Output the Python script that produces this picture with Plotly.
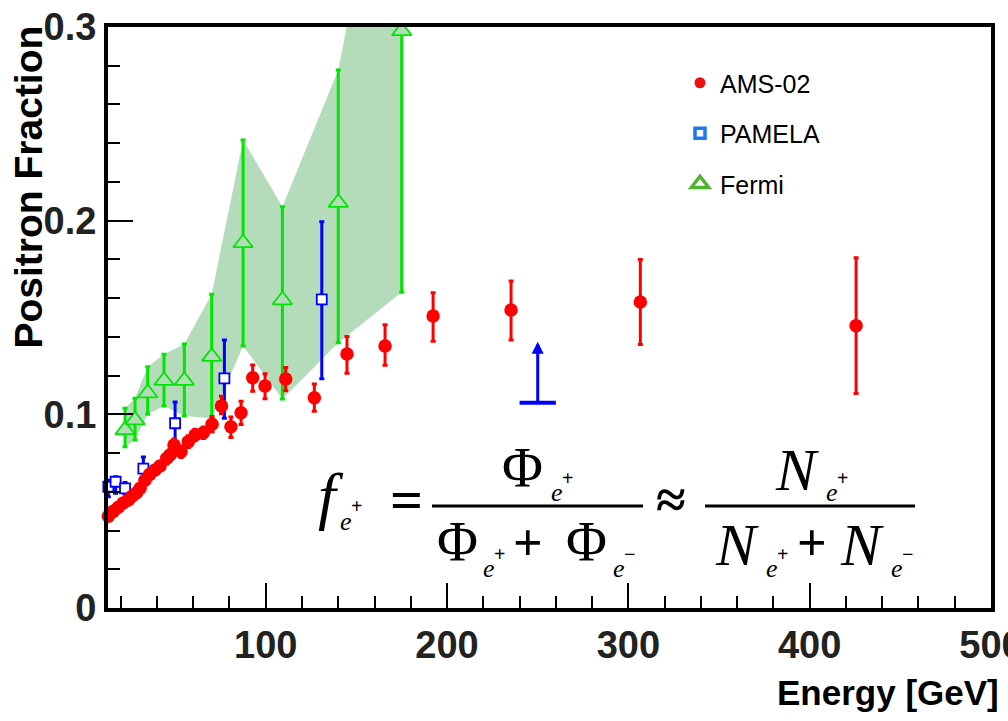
import plotly.graph_objects as go

# ---------------- data ----------------
ams_x = [13.2, 15.9, 18.7, 21.4, 24.2, 26.4, 28.8, 30.7, 33.4, 36.0, 38.9, 41.7, 45.4, 47.2,
         49.4, 53.3, 57.3, 61.0, 65.6, 70.4, 75.6, 80.8, 86.4, 92.8, 99.6, 111.0, 126.8,
         144.8, 165.8, 192.3, 235.3, 306.6, 425.6]
ams_y = [0.0474, 0.0499, 0.0520, 0.0542, 0.0558, 0.0578, 0.0595, 0.0618, 0.0660, 0.0690, 0.0713,
         0.0733, 0.0773, 0.0790, 0.0842, 0.0807, 0.0859, 0.0893, 0.0905, 0.0949, 0.1043, 0.0936,
         0.1008, 0.1189, 0.1146, 0.1182, 0.1086, 0.1312, 0.1353, 0.1508, 0.1539, 0.1580, 0.1458]
ams_ep = [0.002, 0.002, 0.002, 0.002, 0.002, 0.002, 0.002, 0.002, 0.002, 0.002, 0.002,
          0.002, 0.003, 0.003, 0.003, 0.003, 0.003, 0.003, 0.003, 0.004, 0.005, 0.005,
          0.006, 0.0066, 0.0064, 0.006, 0.007, 0.009, 0.011, 0.012, 0.015, 0.022, 0.035]
ams_em = [0.002, 0.002, 0.002, 0.002, 0.002, 0.002, 0.002, 0.002, 0.002, 0.002, 0.002,
          0.002, 0.003, 0.003, 0.003, 0.003, 0.003, 0.003, 0.003, 0.004, 0.004, 0.0056,
          0.006, 0.007, 0.0066, 0.006, 0.007, 0.010, 0.010, 0.013, 0.0155, 0.022, 0.035]

pam_x = [13.2, 17.2, 22.4, 32.5, 50.0, 77.2, 130.9]
pam_y = [0.0626, 0.0652, 0.0618, 0.0720, 0.0954, 0.1186, 0.1594]
pam_ep = [0.0034, 0.0026, 0.003, 0.006, 0.011, 0.0198, 0.040]
pam_em = [0.0051, 0.0060, 0.003, 0.005, 0.011, 0.0206, 0.041]

pam_limit_x = [250.0]
pam_limit_lo = [0.106]
pam_limit_hi = [0.1375]
pam_limit_halfwidth = [10.0]

fermi_x = [22.4, 27.9, 34.9, 43.9, 55.1, 70.2, 87.5, 109.2, 140.0, 175.0]
fermi_y = [0.0919, 0.0970, 0.1110, 0.1174, 0.1174, 0.1298, 0.1885, 0.1590, 0.2093, 0.2980]
fermi_hi = [0.1031, 0.1083, 0.1246, 0.1310, 0.1363, 0.1620, 0.2417, 0.2072, 0.2778, 0.445]
fermi_lo = [0.0833, 0.0867, 0.1000, 0.1043, 0.0991, 0.0980, 0.1353, 0.1079, 0.1370, 0.1630]

x_ticks = [100, 200, 300, 400, 500]
y_ticks = [0, 0.1, 0.2, 0.3]
y_ticktext = ["0", "0.1", "0.2", "0.3"]

# ---------------- styles ----------------
W, H = 1008, 721
L, R, T, B = 108, 17, 27, 113
PW, PH = W - L - R, H - T - B
SANS = "Liberation Sans, Arial, sans-serif"
SERIF = "Liberation Serif, Times New Roman, DejaVu Serif, serif"
RED = "#ff0000"
BLUE = "#0000ff"
GREEN = "#00e600"
BAND = "rgb(180,220,186)"


def P(px, py):
    return (px - L) / PW, (H - B - py) / PH


fig = go.Figure()

# Fermi band
fig.add_trace(go.Scatter(
    x=fermi_x + fermi_x[::-1], y=fermi_hi + fermi_lo[::-1],
    fill="toself", fillcolor=BAND, line=dict(width=0), mode="lines",
    hoverinfo="skip", showlegend=False))

# Fermi points
fig.add_trace(go.Scatter(
    x=fermi_x, y=fermi_y, mode="markers", showlegend=False,
    marker=dict(symbol="triangle-up", size=17, color=BAND, line=dict(color=GREEN, width=1.8)),
    error_y=dict(type="data", symmetric=False,
                 array=[h - y for h, y in zip(fermi_hi, fermi_y)],
                 arrayminus=[y - l for l, y in zip(fermi_lo, fermi_y)],
                 color=GREEN, thickness=3, width=2.5)))

# PAMELA points
fig.add_trace(go.Scatter(
    x=pam_x, y=pam_y, mode="markers", showlegend=False, cliponaxis=False,
    marker=dict(symbol="square", size=10, color="white", line=dict(color=BLUE, width=1.8)),
    error_y=dict(type="data", symmetric=False, array=pam_ep, arrayminus=pam_em,
                 color=BLUE, thickness=3, width=2.5)))

# PAMELA lower limit bar
fig.add_trace(go.Scatter(
    x=pam_limit_x, y=pam_limit_lo, mode="markers", showlegend=False,
    marker=dict(size=1, color=BLUE, opacity=0),
    error_x=dict(type="data", array=pam_limit_halfwidth, color=BLUE, thickness=4, width=0)))

# AMS-02 points
fig.add_trace(go.Scatter(
    x=ams_x, y=ams_y, mode="markers", showlegend=False, cliponaxis=False,
    marker=dict(symbol="circle", size=13.5, color=RED, line=dict(width=0)),
    error_y=dict(type="data", symmetric=False, array=ams_ep, arrayminus=ams_em,
                 color=RED, thickness=3, width=2.5)))

# legend entries
fig.add_trace(go.Scatter(x=[None], y=[None], mode="markers", name="AMS-02", legendgroup="a",
                         marker=dict(symbol="circle", size=11, color="#ee1111")))
fig.add_trace(go.Scatter(x=[None], y=[None], mode="markers", name="PAMELA", legendgroup="b",
                         marker=dict(symbol="square-open", size=10, color="rgb(30,120,240)",
                                     line=dict(width=3.5))))
fig.add_trace(go.Scatter(x=[None], y=[None], mode="markers", name="Fermi", legendgroup="c",
                         marker=dict(symbol="triangle-up-open", size=15, color="rgb(80,180,50)",
                                     line=dict(width=3.5))))

# arrow of lower limit
fig.add_annotation(x=pam_limit_x[0], y=pam_limit_hi[0], ax=pam_limit_x[0], ay=pam_limit_lo[0],
                   xref="x", yref="y", axref="x", ayref="y", text="", showarrow=True,
                   arrowhead=2, arrowsize=0.8, arrowwidth=3, arrowcolor=BLUE)

# formula
def txt(px, py, s, size, italic=False, bold=False):
    x, y = P(px, py)
    fig.add_annotation(x=x, y=y, xref="paper", yref="paper", text=(f"<i>{s}</i>" if italic else s),
                       showarrow=False, xanchor="center", yanchor="middle",
                       font=dict(family=SERIF, size=size, color="black",
                                 weight=("bold" if bold else "normal")))

txt(331, 495, "f", 64, True)
txt(346, 521, "e", 26, True)
txt(356, 506, "+", 20, bold=True)
txt(406, 500, "=", 58, bold=True)
txt(522, 468, "Φ", 56)
txt(557, 492, "e", 26, True)
txt(567, 478, "+", 20, bold=True)
txt(457, 542, "Φ", 56)
txt(489, 568, "e", 26, True)
txt(499, 554, "+", 20, bold=True)
txt(528, 542, "+", 52, bold=True)
txt(586, 542, "Φ", 56)
txt(619, 568, "e", 26, True)
txt(629, 554, "−", 20, bold=True)
txt(671, 500, "≈", 54, bold=True)
txt(797, 470, "N", 60, True)
txt(832, 492, "e", 26, True)
txt(842, 478, "+", 20, bold=True)
txt(737, 545, "N", 60, True)
txt(772, 568, "e", 26, True)
txt(782, 554, "+", 20, bold=True)
txt(812, 542, "+", 52, bold=True)
txt(862, 545, "N", 60, True)
txt(897, 568, "e", 26, True)
txt(907, 554, "−", 20, bold=True)

for x0, x1 in [(432, 643), (705, 915)]:
    a, yb = P(x0, 506)
    b, _ = P(x1, 506)
    fig.add_shape(type="line", xref="paper", yref="paper", x0=a, x1=b, y0=yb, y1=yb,
                  line=dict(color="black", width=3))

# axis titles
xt, yt = P(1001, 692)
fig.add_annotation(x=xt, y=yt, xref="paper", yref="paper", text="Energy [GeV]", showarrow=False,
                   xanchor="right", yanchor="middle",
                   font=dict(family=SANS, size=35, color="black", weight="bold"))
xt, yt = P(28, 24)
fig.add_annotation(x=xt, y=yt, xref="paper", yref="paper", text="Positron Fraction", showarrow=False,
                   textangle=-90, xanchor="center", yanchor="top",
                   font=dict(family=SANS, size=39, color="black", weight="bold"))

lx, ly = P(680, 60)
fig.update_layout(
    width=W, height=H, margin=dict(l=L, r=R, t=T, b=B, autoexpand=False),
    paper_bgcolor="white", plot_bgcolor="white",
    showlegend=True,
    legend=dict(x=lx, y=ly, xanchor="left", yanchor="top", bgcolor="rgba(0,0,0,0)",
                font=dict(family=SANS, size=25, color="black"), tracegroupgap=15,
                itemsizing="trace"),
    xaxis=dict(range=[13, 500], tickvals=x_ticks, showgrid=False, zeroline=False,
               showline=True, linewidth=4, linecolor="black", mirror=True, automargin=False,
               ticks="inside", ticklen=25, tickwidth=1.5, tickcolor="black",
               ticklabeloverflow="allow",
               minor=dict(dtick=20, tick0=0, ticks="inside", ticklen=12, tickwidth=1.5, tickcolor="black"),
               tickfont=dict(family=SANS, size=38, color="#222", weight="bold")),
    yaxis=dict(range=[0, 0.3], tickvals=y_ticks, ticktext=y_ticktext, showgrid=False, zeroline=False,
               showline=True, linewidth=4, linecolor="black", mirror=True, automargin=False,
               ticks="inside", ticklen=25, tickwidth=1.5, tickcolor="black",
               minor=dict(dtick=0.02, tick0=0, ticks="inside", ticklen=12, tickwidth=1.5, tickcolor="black"),
               tickfont=dict(family=SANS, size=38, color="#222", weight="bold")),
)

fig.write_html("out.html")
